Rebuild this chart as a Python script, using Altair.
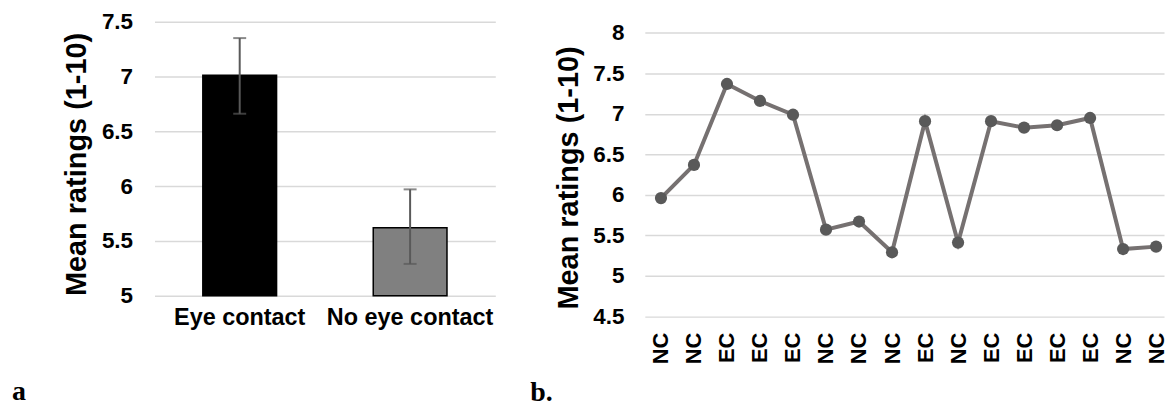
import json
import altair as alt
import pandas as pd

# ---------------- data: panel a ----------------
conditions = ["Eye contact", "No eye contact"]
cond_means = [7.01, 5.62]
cond_low = [6.66, 5.29]
cond_high = [7.35, 5.97]
cond_fill = ["#000000", "#808080"]
bar_base = 5.0
ticks_a = [5, 5.5, 6, 6.5, 7, 7.5]

# ---------------- data: panel b ----------------
trial_labels = ["NC", "NC", "EC", "EC", "EC", "NC", "NC", "NC",
                "EC", "NC", "EC", "EC", "EC", "EC", "NC", "NC"]
trial_means = [5.96, 6.37, 7.37, 7.16, 6.99, 5.57, 5.67, 5.29,
               6.91, 5.41, 6.91, 6.83, 6.86, 6.95, 5.33, 5.36]
ticks_b = [4.5, 5, 5.5, 6, 6.5, 7, 7.5, 8]

panel_labels = ["a", "b."]
y_title = "Mean ratings (1-10)"

FONT = "Liberation Sans"
SERIF = "Liberation Serif"
GRID = "#d9d9d9"

# ---------------- panel a ----------------
dfa = pd.DataFrame({
    "cond": conditions, "mean": cond_means, "low": cond_low,
    "high": cond_high, "fill": cond_fill, "base": [bar_base] * len(conditions),
})

xa_scale = alt.Scale(paddingInner=0, paddingOuter=0)
ya_scale = alt.Scale(domain=[5, 7.5], zero=False, nice=False)

xa_axis = alt.Axis(title=None, labelAngle=0, labelFontSize=23.5, labelFont=FONT,
                   labelFontWeight="bold", labelColor="black", labelPadding=10,
                   ticks=False, domain=False, grid=False)
ya_axis = alt.Axis(values=ticks_a, format="~g", title=y_title, labelFontSize=22.5,
                   labelFont=FONT, labelFontWeight="bold", labelColor="black",
                   labelPadding=22, ticks=False, domain=False, grid=True,
                   gridColor=GRID, gridWidth=1.5,
                   titleFontSize=29, titleFont=FONT, titleFontWeight="bold",
                   titleColor="black", titleAngle=270, titleX=-69, titleY=142.8,
                   titleAlign="center", titleBaseline="alphabetic")

xa = alt.X("cond:N", sort=conditions, scale=xa_scale, axis=xa_axis)


def ya(field):
    return alt.Y(field, scale=ya_scale, axis=ya_axis, title=y_title)


bars = alt.Chart(dfa).mark_bar(size=74, stroke="black", strokeWidth=1.5).encode(
    x=xa,
    y=ya("mean:Q"),
    y2="base:Q",
    fill=alt.Fill("fill:N", scale=None),
)
err = alt.Chart(dfa).mark_rule(color="#595959", strokeWidth=2).encode(
    x=xa, y=ya("low:Q"), y2="high:Q")
cap_lo = alt.Chart(dfa).mark_tick(color="#595959", thickness=2, size=13).encode(
    x=xa, y=ya("low:Q"))
cap_hi = alt.Chart(dfa).mark_tick(color="#595959", thickness=2, size=13).encode(
    x=xa, y=ya("high:Q"))
lab_a = alt.Chart(pd.DataFrame({"t": [panel_labels[0]]})).mark_text(
    font=SERIF, fontWeight="bold", fontSize=28, align="left",
    baseline="alphabetic", color="black").encode(
    text="t:N", x=alt.value(-143), y=alt.value(380))

left = alt.layer(bars, err, cap_lo, cap_hi, lab_a).properties(width=342, height=275)

# ---------------- panel b ----------------
dfb = pd.DataFrame({"idx": list(range(len(trial_labels))),
                    "label": trial_labels, "mean": trial_means})
label_expr = "%s[datum.value]" % json.dumps(trial_labels)

xb_scale = alt.Scale(domain=[-0.49, 15.24], nice=False, zero=False)
yb_scale = alt.Scale(domain=[4.5, 8.14], zero=False, nice=False)

xb_axis = alt.Axis(values=list(range(len(trial_labels))), labelExpr=label_expr,
                   labelAngle=270, title=None, grid=False, ticks=False, domain=False,
                   labelPadding=16, labelFontSize=22, labelFont=FONT,
                   labelFontWeight="bold", labelColor="black",
                   labelOverlap=False, labelFlush=False)
yb_axis = alt.Axis(values=ticks_b, format="~g", title=y_title, labelFontSize=22.5,
                   labelFont=FONT, labelFontWeight="bold", labelColor="black",
                   labelPadding=21, ticks=False, domain=False, grid=True,
                   gridColor=GRID, gridWidth=1.5,
                   titleFontSize=29, titleFont=FONT, titleFontWeight="bold",
                   titleColor="black", titleAngle=270, titleX=-68, titleY=156.3,
                   titleAlign="center", titleBaseline="alphabetic")

xb = alt.X("idx:Q", scale=xb_scale, axis=xb_axis)
yb = alt.Y("mean:Q", scale=yb_scale, axis=yb_axis, title=y_title)

line = alt.Chart(dfb).mark_line(color="#767171", strokeWidth=4).encode(x=xb, y=yb)
pts = alt.Chart(dfb).mark_circle(size=150, color="#595959", opacity=1).encode(x=xb, y=yb)
lab_b = alt.Chart(pd.DataFrame({"t": [panel_labels[1]]})).mark_text(
    font=SERIF, fontWeight="bold", fontSize=28, align="left",
    baseline="alphabetic", color="black").encode(
    text="t:N", x=alt.value(-115), y=alt.value(381))

right = alt.layer(line, pts, lab_b).properties(width=521, height=295.6)

chart = alt.hconcat(left, right, spacing=150, bounds="flush").configure(
    padding={"left": 4, "top": 2, "right": 0, "bottom": 2}
).configure_view(stroke=None)

chart.save("out.html", embed_options={"renderer": "svg", "actions": False})
